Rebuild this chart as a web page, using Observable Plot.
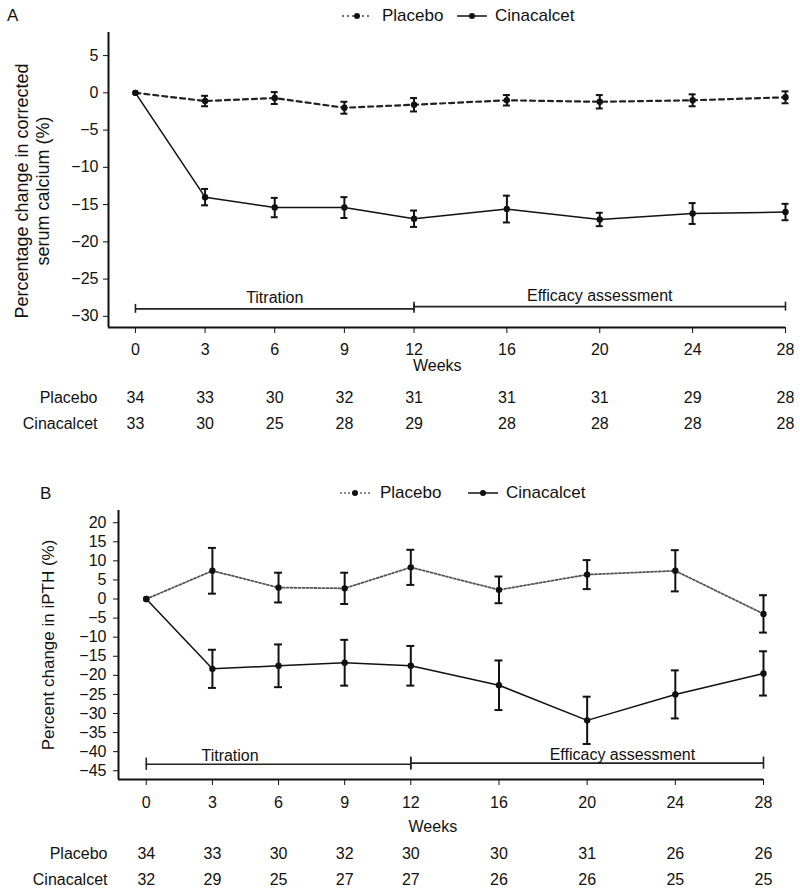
<!DOCTYPE html>
<html>
<head>
<meta charset="utf-8">
<script src="https://cdn.jsdelivr.net/npm/d3@7"></script>
<script src="https://cdn.jsdelivr.net/npm/@observablehq/plot@0.6"></script>
<style>
  html, body { margin: 0; padding: 0; background: #fff; }
  #wrap { position: relative; width: 800px; height: 890px; font-family: "Liberation Sans", Arial, sans-serif; color: #111; }
  .panel { position: absolute; left: 0; }
  .letter { position: absolute; font-size: 17px; line-height: 1; }
  .legend { position: absolute; display: flex; align-items: center; font-size: 17px; line-height: 1; }
  .legend svg { display: block; }
</style>
</head>
<body>
<div id="wrap"></div>
<script>
// ---------- data ----------
const weeks = [0, 3, 6, 9, 12, 16, 20, 24, 28];

// Panel A: % change in corrected serum calcium
const calciumPlacebo    = [0, -1.1, -0.7, -2.0, -1.6, -1.0, -1.2, -1.0, -0.6];
const calciumPlaceboErr = [0, 0.7, 0.8, 0.8, 0.9, 0.7, 0.9, 0.8, 0.8];
const calciumCina       = [0, -14.0, -15.4, -15.4, -16.9, -15.6, -17.0, -16.2, -16.0];
const calciumCinaErr    = [0, 1.1, 1.3, 1.4, 1.1, 1.8, 0.9, 1.4, 1.1];
const nPlaceboA = [34, 33, 30, 32, 31, 31, 31, 29, 28];
const nCinaA    = [33, 30, 25, 28, 29, 28, 28, 28, 28];
const yTicksA = [5, 0, -5, -10, -15, -20, -25, -30];

// Panel B: % change in iPTH
const pthPlacebo    = [0, 7.4, 3.0, 2.8, 8.3, 2.4, 6.4, 7.4, -3.9];
const pthPlaceboErr = [0, 6.0, 3.9, 4.1, 4.6, 3.5, 3.8, 5.4, 4.9];
const pthCina       = [0, -18.3, -17.5, -16.7, -17.5, -22.6, -31.8, -25.0, -19.5];
const pthCinaErr    = [0, 5.0, 5.6, 6.0, 5.2, 6.5, 6.2, 6.3, 5.8];
const nPlaceboB = [34, 33, 30, 32, 30, 30, 31, 26, 26];
const nCinaB    = [32, 29, 25, 27, 27, 26, 26, 25, 25];
const yTicksB = [20, 15, 10, 5, 0, -5, -10, -15, -20, -25, -30, -35, -40, -45];

const groups = ["Placebo", "Cinacalcet"];
const phaseNames = ["Titration", "Efficacy assessment"];
const phaseStart = [0, 12];
const phaseEnd = [12, 28];

// ---------- helpers ----------
const FONT = '"Liberation Sans", Arial, sans-serif';

function series(vals, errs) {
  return weeks.map((w, i) => ({week: w, v: vals[i], e: errs[i]}));
}

function panel(cfg) {
  const pl = series(cfg.placebo, cfg.placeboErr);
  const ci = series(cfg.cina, cfg.cinaErr);
  const plE = pl.filter(d => d.e > 0);
  const ciE = ci.filter(d => d.e > 0);
  const phases = phaseNames.map((name, i) => ({
    name, x1: phaseStart[i], x2: phaseEnd[i], y: cfg.phaseY[i], lx: cfg.phaseLabelX[i]
  }));
  const phaseTicks = phases.flatMap(p => [{x: p.x1, y: p.y}, {x: p.x2, y: p.y}]);
  const cap = cfg.cap;
  const errMarks = (data, width) => [
    Plot.ruleX(data, {x: "week", y1: d => d.v - d.e, y2: d => d.v + d.e, stroke: "#111", strokeWidth: width}),
    Plot.ruleY(data, {y: d => d.v + d.e, x1: d => d.week - cap, x2: d => d.week + cap, stroke: "#111", strokeWidth: width}),
    Plot.ruleY(data, {y: d => d.v - d.e, x1: d => d.week - cap, x2: d => d.week + cap, stroke: "#111", strokeWidth: width})
  ];
  const countsMarks = (vals, dy) => Plot.text(weeks.map((w, i) => ({week: w, n: vals[i]})),
    {x: "week", text: "n", frameAnchor: "bottom", dy, fontSize: 16});
  const rowLabel = (name, dy) => Plot.text([name],
    {frameAnchor: "bottom-left", dx: cfg.rowLabelDx, dy, textAnchor: "end", fontSize: 16});
  return Plot.plot({
    width: 800,
    height: cfg.height,
    marginTop: cfg.marginTop,
    marginBottom: cfg.marginBottom,
    marginLeft: cfg.marginLeft,
    marginRight: cfg.marginRight,
    style: {fontFamily: FONT, fontSize: "16px", color: "#111", background: "transparent"},
    x: {domain: [cfg.xMin, 28], ticks: weeks, tickSize: 6, tickPadding: cfg.xTickPadding, label: null, tickFormat: d => String(d)},
    y: {domain: cfg.yDomain, ticks: cfg.yTicks, tickSize: 5, tickPadding: cfg.yTickPadding, label: null},
    marks: [
      Plot.ruleX([cfg.xMin], {stroke: "#111", strokeWidth: 2}),
      Plot.ruleY([cfg.yDomain[0]], {stroke: "#111", strokeWidth: 2}),
      // phase brackets
      Plot.ruleY(phases, {y: "y", x1: "x1", x2: "x2", stroke: "#222", strokeWidth: 1.6}),
      Plot.ruleX(phaseTicks, {x: "x", y1: d => d.y - cfg.bracketTick, y2: d => d.y + cfg.bracketTick, stroke: "#222", strokeWidth: 1.6}),
      Plot.text(phases, {x: "lx", y: "y", text: "name", dy: cfg.phaseDy, fontSize: 16}),
      // series
      Plot.line(pl, {x: "week", y: "v", stroke: cfg.placeboColor, strokeWidth: cfg.placeboWidth, strokeDasharray: cfg.placeboDash}),
      Plot.line(ci, {x: "week", y: "v", stroke: "#111", strokeWidth: 1.5}),
      ...errMarks(plE, 2),
      ...errMarks(ciE, 2),
      Plot.dot(pl, {x: "week", y: "v", r: 3.2, fill: "#111", stroke: "none"}),
      Plot.dot(ci, {x: "week", y: "v", r: 3.2, fill: "#111", stroke: "none"}),
      // x label
      Plot.text(["Weeks"], {x: cfg.weeksLabelX, frameAnchor: "bottom", dy: cfg.weeksDy, fontSize: 16}),
      // counts table
      countsMarks(cfg.nPlacebo, cfg.rowDy[0]),
      countsMarks(cfg.nCina, cfg.rowDy[1]),
      rowLabel(groups[0], cfg.rowDy[0]),
      rowLabel(groups[1], cfg.rowDy[1]),
      // y label
      Plot.text([cfg.yLabel], {frameAnchor: "left", textAnchor: "middle", rotate: -90, dx: cfg.yLabelDx, dy: cfg.yLabelDy,
        fontSize: cfg.yLabelSize, lineHeight: 1.2})
    ]
  });
}

// ---------- panels ----------
const cfgA = {
  height: 450, marginTop: 32, marginBottom: 123, marginLeft: 108, marginRight: 15,
  xMin: -1.16, yDomain: [-31.5, 8.1], yTicks: yTicksA,
  xTickPadding: 10, yTickPadding: 5,
  placebo: calciumPlacebo, placeboErr: calciumPlaceboErr, cina: calciumCina, cinaErr: calciumCinaErr,
  nPlacebo: nPlaceboA, nCina: nCinaA,
  placeboColor: "#222", placeboWidth: 2.2, placeboDash: "5,4",
  phaseY: [-29.0, -28.7], phaseLabelX: [6, 20], phaseDy: -11, bracketTick: 0.6,
  cap: 0.15, weeksLabelX: 13, weeksDy: 43, rowDy: [75, 101], rowLabelDx: -11,
  yLabel: "Percentage change in corrected\nserum calcium (%)", yLabelDx: -77, yLabelDy: 11, yLabelSize: 18
};
const cfgB = {
  height: 420, marginTop: 40, marginBottom: 111, marginLeft: 118, marginRight: 37,
  xMin: -1.26, yDomain: [-47.3, 23.2], yTicks: yTicksB,
  xTickPadding: 11, yTickPadding: 7,
  placebo: pthPlacebo, placeboErr: pthPlaceboErr, cina: pthCina, cinaErr: pthCinaErr,
  nPlacebo: nPlaceboB, nCina: nCinaB,
  placeboColor: "#555", placeboWidth: 1.8, placeboDash: "2,2",
  phaseY: [-43.3, -43.0], phaseLabelX: [3.8, 21.6], phaseDy: -8, bracketTick: 1.6,
  cap: 0.18, weeksLabelX: 13, weeksDy: 52, rowDy: [79, 105], rowLabelDx: -11,
  yLabel: "Percent change in iPTH (%)", yLabelDx: -71, yLabelDy: 0, yLabelSize: 17
};

const wrap = document.getElementById("wrap");

function place(node, top) {
  node.classList.add("panel");
  node.style.position = "absolute";
  node.style.top = top + "px";
  node.style.left = "0px";
  wrap.appendChild(node);
}
place(panel(cfgA), 0);
place(panel(cfgB), 470);

// ---------- panel letters & legends ----------
function letter(txt, x, y) {
  const d = document.createElement("div");
  d.className = "letter";
  d.textContent = txt;
  d.style.left = x + "px";
  d.style.top = y + "px";
  wrap.appendChild(d);
}
letter("A", 7, 7);
letter("B", 40, 485);

function swatch(dash, color, width) {
  const ns = "http://www.w3.org/2000/svg";
  const s = document.createElementNS(ns, "svg");
  s.setAttribute("width", 30); s.setAttribute("height", 10);
  const l = document.createElementNS(ns, "line");
  l.setAttribute("x1", 0); l.setAttribute("x2", 30); l.setAttribute("y1", 5); l.setAttribute("y2", 5);
  l.setAttribute("stroke", color); l.setAttribute("stroke-width", width);
  if (dash) l.setAttribute("stroke-dasharray", dash);
  const c = document.createElementNS(ns, "circle");
  c.setAttribute("cx", 15); c.setAttribute("cy", 5); c.setAttribute("r", 3); c.setAttribute("fill", "#111");
  s.appendChild(l); s.appendChild(c);
  return s;
}
function legend(y, items) {
  for (const it of items) {
    const d = document.createElement("div");
    d.className = "legend";
    d.style.left = it.x + "px";
    d.style.top = (y - 8) + "px";
    d.appendChild(swatch(it.dash, it.color, it.width));
    const t = document.createElement("span");
    t.textContent = it.label;
    t.style.marginLeft = it.gap + "px";
    d.appendChild(t);
    wrap.appendChild(d);
  }
}
legend(15, [
  {x: 342, label: groups[0], dash: "2,3", color: "#444", width: 1.5, gap: 10},
  {x: 457, label: groups[1], dash: null, color: "#111", width: 1.5, gap: 8}
]);
legend(492, [
  {x: 340, label: groups[0], dash: "2,2", color: "#666", width: 1.5, gap: 10},
  {x: 468, label: groups[1], dash: null, color: "#111", width: 1.5, gap: 8}
]);
</script>
</body>
</html>
